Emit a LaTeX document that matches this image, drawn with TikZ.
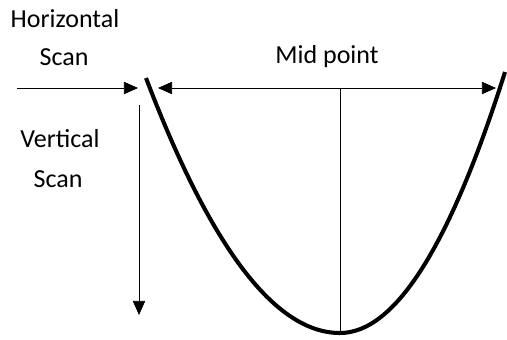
\documentclass[tikz,border=0pt]{standalone}
\usepackage{fontspec}
\setmainfont{Carlito}
\usetikzlibrary{arrows.meta}

\begin{document}
\begin{tikzpicture}[x=0.02cm, y=-0.02cm,
    label text/.style={anchor=base, font=\fontsize{14.8}{17}\selectfont},
    scan arrow/.style={-{Triangle[length=8pt, width=7pt]}, thin}]
        \useasboundingbox (0,0) rectangle (507,339);

        % Labels
        \node[label text] (horiz) at (65,27) {Horizontal};
        \node[label text] (hscan) at (64,65) {Scan};
        \node[label text] (vert) at (60,147) {Vertical};
        \node[label text] (vscan) at (58,187) {Scan};
        \node[label text] (mid) at (327,63) {Mid point};

        % Points on the curve
        \coordinate (lefttop) at (146,78);
        \coordinate (bottom) at (340,333);
        \coordinate (righttop) at (505,72);

        % Parabola
        \draw[line width=2.3pt] (lefttop) .. controls (210.7,248) and (275.3,333) .. (bottom)
            .. controls (395,333) and (450,246) .. (righttop);

        % Horizontal scan
        \coordinate (hstart) at (17,88);
        \coordinate (hend) at (138,88);
        \draw[scan arrow] (hstart) -- (hend);

        % Mid point span
        \coordinate (mleft) at (158,88);
        \coordinate (mright) at (496,88);
        \draw[{Triangle[length=8pt, width=7pt]}-{Triangle[length=8pt, width=7pt]}, thin] (mleft) -- (mright);
        \draw[thin] (340,88) -- (bottom);

        % Vertical scan
        \coordinate (vstart) at (139,105);
        \coordinate (vend) at (139,315);
        \draw[scan arrow] (vstart) -- (vend);
    \end{tikzpicture}
\end{document}
